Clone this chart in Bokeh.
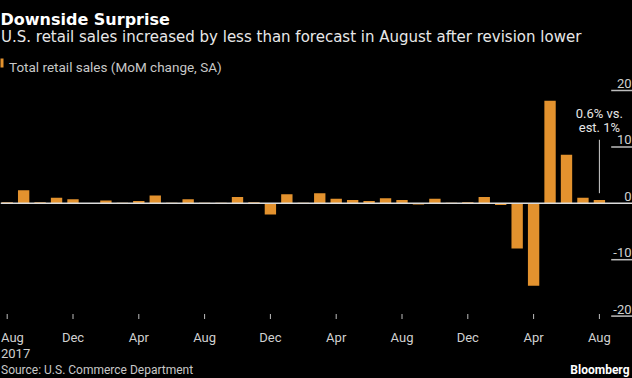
from bokeh.plotting import figure
from bokeh.models import Range1d, Span, GlobalInlineStyleSheet
from bokeh.embed import file_html
from bokeh.resources import INLINE
from bokeh.core.properties import value

# ---------------- data ----------------
periods = ["2017-08", "2017-09", "2017-10", "2017-11", "2017-12",
           "2018-01", "2018-02", "2018-03", "2018-04", "2018-05", "2018-06",
           "2018-07", "2018-08", "2018-09", "2018-10", "2018-11", "2018-12",
           "2019-01", "2019-02", "2019-03", "2019-04", "2019-05", "2019-06",
           "2019-07", "2019-08", "2019-09", "2019-10", "2019-11", "2019-12",
           "2020-01", "2020-02", "2020-03", "2020-04", "2020-05", "2020-06",
           "2020-07", "2020-08"]
retail_mom = [0.2, 2.3, 0.2, 1.0, 0.7,
              -0.1, 0.5, 0.1, 0.4, 1.4, 0.1,
              0.7, 0.1, 0.1, 1.1, 0.2, -2.0,
              1.6, 0.1, 1.8, 0.8, 0.6, 0.4,
              0.9, 0.6, -0.2, 0.8, 0.1, 0.2,
              1.1, -0.3, -8.0, -14.6, 18.2, 8.6,
              1.0, 0.6]
x_tick_index = [0, 4, 8, 12, 16, 20, 24, 28, 32, 36]
x_tick_labels = ["Aug", "Dec", "Apr", "Aug", "Dec", "Apr", "Aug", "Dec", "Apr", "Aug"]
first_year_label = "2017"
y_ticks = [20, 10, 0, -10, -20]
y_tick_labels = ["20", "10", "0", "-10", "-20"]

title_text = "Downside Surprise"
subtitle_text = "U.S. retail sales increased by less than forecast in August after revision lower"
legend_text = "Total retail sales (MoM change, SA)"
note_lines = ["0.6% vs.", "est. 1%"]
source_text = "Source: U.S. Commerce Department"
brand_text = "Bloomberg"

xs = list(range(len(periods)))

# ---------------- geometry helpers (pixel -> data) ----------------
X0, DX = 6.7, 16.45      # px of first month, px per month
Y0, DY = 202.8, 5.64     # px of zero line, px per unit
def X(px):
    return (px - X0) / DX
def Y(py):
    return (Y0 - py) / DY

W, H = 632, 378
BAR = "#E3922E"
FONT = "Roboto"
LBL = "#d0d0d0"

p = figure(width=W, height=H, output_backend="svg", toolbar_location=None,
           x_range=Range1d(X(0), X(W)), y_range=Range1d(Y(H), Y(0)),
           x_axis_location=None, y_axis_location=None,
           background_fill_color="black", border_fill_color="black",
           outline_line_color=None,
           min_border_left=0, min_border_right=0,
           min_border_top=0, min_border_bottom=0)
p.grid.visible = False
p.stylesheets = [GlobalInlineStyleSheet(
    css="html, body { margin: 0; padding: 0; overflow: hidden; background-color: #000; }")]

# bars
p.vbar(x=xs, top=retail_mom, bottom=0, width=0.69, fill_color=BAR, line_color=None)

# zero line
p.add_layout(Span(location=0, dimension="width", line_color="#dcdcdc", line_width=1.5))

# right-side value scale: short marks + labels
other = [t for t in y_ticks if t != 0]
p.segment(x0=[X(610.7)] * len(other), x1=[X(W)] * len(other), y0=other, y1=other,
          line_color="#bdbdbd", line_width=1.5)
p.text(x=[X(631)] * len(y_ticks), y=y_ticks, text=y_tick_labels,
       text_align="right", text_baseline="alphabetic", y_offset=-7,
       text_font=value(FONT), text_font_size="13px", text_color=LBL)

# annotation on last bar
last = xs[-1]
p.segment(x0=[last], x1=[last], y0=[Y(192.7)], y1=[Y(139.3)],
          line_color="#cfcfcf", line_width=1)
p.text(x=[last, last], y=[Y(113.3), Y(126.7)], text=note_lines,
       text_align="center", text_baseline="alphabetic",
       text_font=value(FONT), text_font_size="13px", text_color="#e6e6e6")

# time axis: tick marks and labels
n = len(x_tick_index)
p.segment(x0=x_tick_index, x1=x_tick_index, y0=[Y(313.5)] * n, y1=[Y(318.5)] * n,
          line_color="#bdbdbd", line_width=1)
p.text(x=x_tick_index[1:], y=[Y(337.3)] * (n - 1), text=x_tick_labels[1:],
       text_align="center", text_baseline="alphabetic",
       text_font=value(FONT), text_font_size="13px", text_color=LBL)
# first label (with year) kept inside the left edge
p.text(x=[X(0.5), X(0.5)], y=[Y(337.3), Y(352.7)],
       text=[x_tick_labels[0], first_year_label],
       text_align="left", text_baseline="alphabetic",
       text_font=value(FONT), text_font_size="13px", text_color=LBL)

# header
p.text(x=[X(0)], y=[Y(19.3)], text=[title_text], text_align="left",
       text_baseline="alphabetic", text_font=value("DejaVu Sans"), text_font_size="16px",
       text_font_style="bold", text_color="white")
p.text(x=[X(0.5)], y=[Y(36.7)], text=[subtitle_text], text_align="left",
       text_baseline="alphabetic", text_font=value("DejaVu Sans"), text_font_size="15px",
       text_color="#e8e8e8")
p.quad(left=[X(-6)], right=[X(3)], top=[Y(58)], bottom=[Y(67)],
       fill_color=BAR, line_color=None)
p.text(x=[X(8.5)], y=[Y(66.7)], text=[legend_text], text_align="left",
       text_baseline="alphabetic", text_font=value(FONT), text_font_size="13.5px",
       text_color="#c8c8c8")

# footer
p.text(x=[X(0.5)], y=[Y(369)], text=[source_text], text_align="left",
       text_baseline="alphabetic", text_font=value(FONT), text_font_size="12px",
       text_color="#c8c8c8")
p.text(x=[X(629)], y=[Y(369)], text=[brand_text], text_align="right",
       text_baseline="alphabetic", text_font=value(FONT), text_font_size="12px",
       text_font_style="bold", text_color="white")

open("out.html", "w").write(file_html(p, INLINE))
